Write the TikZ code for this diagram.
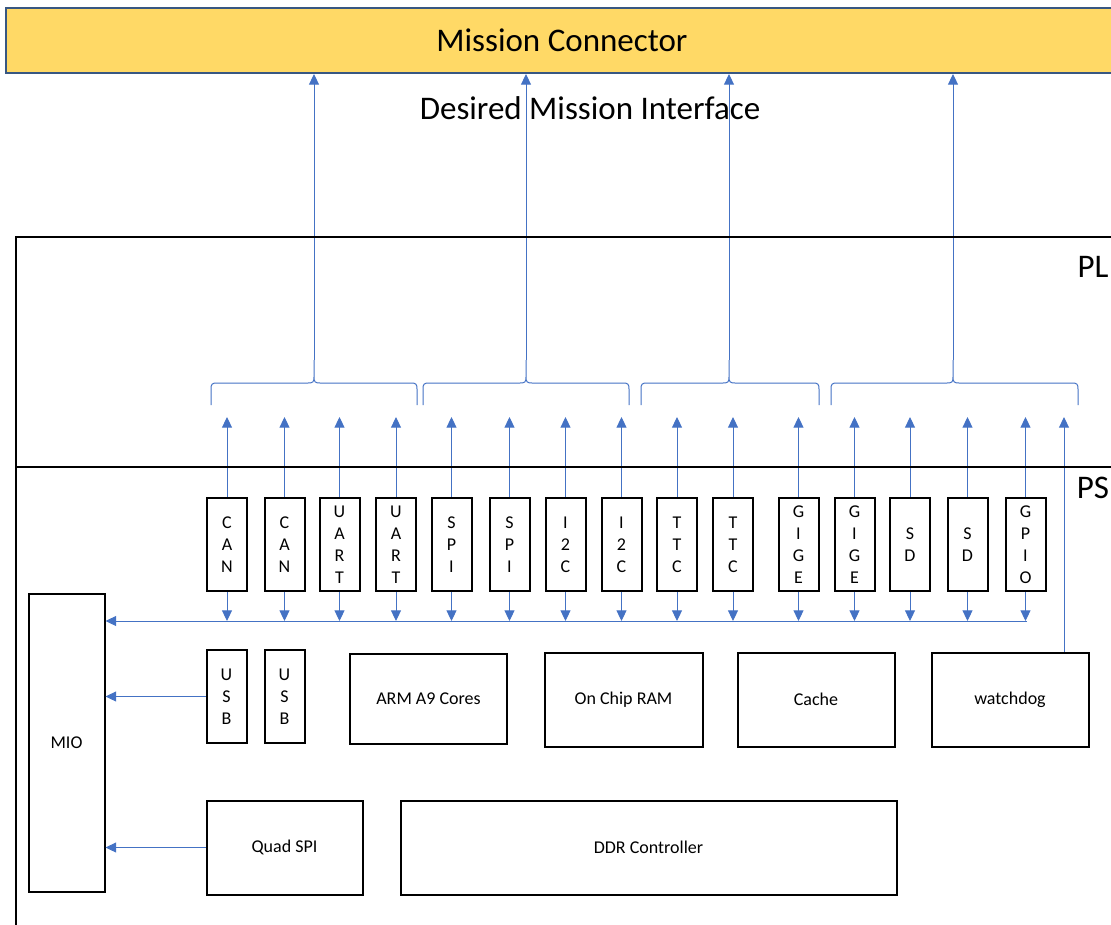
\documentclass[tikz,border=0pt]{standalone}
\usepackage{fontspec}
\setmainfont{Carlito}
\usetikzlibrary{arrows.meta}
\definecolor{lblue}{RGB}{68,114,196}
\definecolor{mcfill}{RGB}{255,217,102}
\definecolor{mcedge}{RGB}{56,87,130}
\newcommand\mybrace[3]{%
 \draw[brc] (#1,405) -- (#1,389) .. controls (#1,384) and (#1+1,383) .. (#1+6,383) -- (#2-6,383) .. controls (#2-1,383) and (#2,382) .. (#2,377) -- (#2,360)
   (#2,377) .. controls (#2,382) and (#2+1,383) .. (#2+6,383) -- (#3-6,383) .. controls (#3-1,383) and (#3,384) .. (#3,389) -- (#3,405);}
\begin{document}
\begin{tikzpicture}[x=0.75pt,y=-0.75pt,
  arr/.style={lblue, line width=0.75pt, -{Triangle[width=7.5pt,length=8pt]}},
  brc/.style={lblue, line width=0.75pt},
  txt/.style={font=\fontsize{13.5}{16.5}\selectfont},
  bigtxt/.style={font=\fontsize{24.75}{30}\selectfont},
  pbox/.style={draw=black, line width=1.5pt, minimum width=30pt, minimum height=70pt, inner sep=0pt, align=center, txt},
  bbox/.style={draw=black, line width=1.5pt, inner sep=0pt, align=center, txt},
  frame/.style={black, line width=1.5pt}
]
\useasboundingbox (0,0) rectangle (1111,925);
\clip (0,0) rectangle (1111,925);

% Mission connector
\node[draw=mcedge, fill=mcfill, line width=1.5pt, minimum width=834pt, minimum height=48.75pt, inner sep=0pt, bigtxt] (mc) at (562,40.5) {Mission Connector};
\node[bigtxt] (dmi) at (590,108) {Desired Mission Interface};

% coordinates
\coordinate (plT) at (0,417);
\coordinate (busR) at (1027,621);
\coordinate (wdT) at (1064,417);
\coordinate (c1) at (314,360);
\coordinate (c2) at (526,360);
\coordinate (c3) at (729,360);
\coordinate (c4) at (953,360);

% braces and arrows to connector
\mybrace{211}{314}{417}
\mybrace{423}{526}{629}
\mybrace{641}{729}{819}
\mybrace{831}{953}{1078}
\foreach \c in {c1,c2,c3,c4} \draw[arr] (\c) -- (\c |- mc.south);

% peripheral boxes
\node[pbox] (can1) at (227,544.5) {C\\A\\N};
\node[pbox] (can2) at (284.5,544.5) {C\\A\\N};
\node[pbox] (uart1) at (339.5,544.5) {U\\A\\R\\T};
\node[pbox] (uart2) at (396,544.5) {U\\A\\R\\T};
\node[pbox] (spi1) at (451.5,544.5) {S\\P\\I};
\node[pbox] (spi2) at (509.5,544.5) {S\\P\\I};
\node[pbox] (iic1) at (565.5,544.5) {I\\2\\C};
\node[pbox] (iic2) at (621.5,544.5) {I\\2\\C};
\node[pbox] (ttc1) at (677,544.5) {T\\T\\C};
\node[pbox] (ttc2) at (733,544.5) {T\\T\\C};
\node[pbox] (gige1) at (798.5,544.5) {G\\I\\G\\E};
\node[pbox] (gige2) at (854.5,544.5) {G\\I\\G\\E};
\node[pbox] (sd1) at (910,544.5) {S\\D};
\node[pbox] (sd2) at (967.5,544.5) {S\\D};
\node[pbox] (gpio) at (1025.5,544.5) {G\\P\\I\\O};

% lower blocks
\node[bbox, minimum width=57pt, minimum height=223.5pt] (mio) at (66.5,742.5) {MIO};
\node[pbox] (usb1) at (226.5,696.5) {U\\S\\B};
\node[pbox] (usb2) at (284.5,696.5) {U\\S\\B};
\node[bbox, minimum width=117.75pt, minimum height=67.5pt] (arm) at (428.5,698.5) {ARM A9 Cores};
\node[bbox, minimum width=118.5pt, minimum height=70.5pt] (ocm) at (623.5,699.5) {On Chip RAM};
\node[bbox, minimum width=117.75pt, minimum height=70.5pt] (cache) at (816,699.5) {Cache};
\node[bbox, minimum width=117.75pt, minimum height=70.5pt] (wd) at (1010,699.5) {watchdog};
\node[bbox, minimum width=117pt, minimum height=70.5pt] (qspi) at (284.5,847.5) {Quad SPI};
\node[bbox, minimum width=372pt, minimum height=70.5pt] (ddr) at (648.5,847.5) {DDR Controller};

% up and down arrows
\foreach \b in {can1,can2,uart1,uart2,spi1,spi2,iic1,iic2,ttc1,ttc2,gige1,gige2,sd1,sd2,gpio}{
  \draw[arr] (\b.north) -- (\b.north |- plT);
  \draw[arr] (\b.south) -- (\b.south |- busR);
}
\draw[arr] (wdT |- wd.north) -- (wdT);
\draw[arr] (busR) -- (busR -| mio.east);
\draw[arr] (usb1.west) -- (usb1.west -| mio.east);
\draw[arr] (qspi.west) -- (qspi.west -| mio.east);

% PL / PS frame
\draw[frame] (16,925) -- (16,237) -- (1111,237);
\draw[frame] (16,466.5) -- (1111,466.5);
\node[bigtxt] (pl) at (1093,267) {PL};
\node[bigtxt] (ps) at (1093,488) {PS};
\end{tikzpicture}
\end{document}
